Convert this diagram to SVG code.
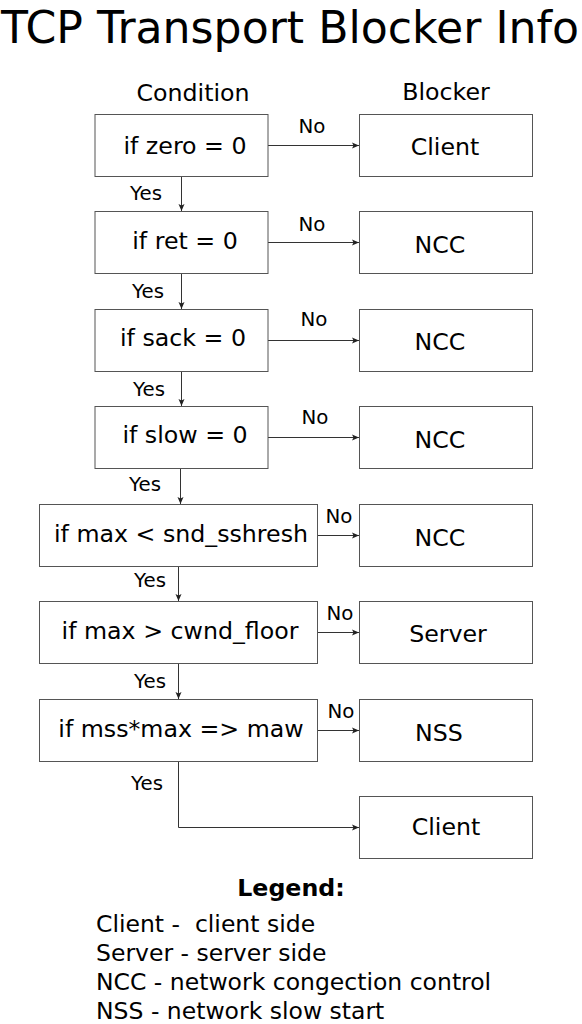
<svg xmlns="http://www.w3.org/2000/svg" width="582" height="1024" viewBox="0 0 582 1024">
<style>
text{font-family:"DejaVu Sans",sans-serif;fill:#000}
.t{font-size:45px;text-anchor:middle}
.h{font-size:23.7px;text-anchor:middle}
.n{font-size:23.7px;text-anchor:middle}
.l{font-size:19.8px;text-anchor:middle}
.g{font-size:23.5px}
.b{fill:#fff;stroke:#555;stroke-width:1}
.c{fill:none;stroke:#333;stroke-width:1;marker-end:url(#a)}
</style>
<defs>
<marker id="a" markerWidth="8" markerHeight="8" refX="7" refY="4" orient="auto" markerUnits="userSpaceOnUse">
<path d="M0,1 L7,4 L0,7 L1.5,4 Z" fill="#222"/>
</marker>
</defs>
<rect width="582" height="1024" fill="#fff"/>
<text class="t" x="290" y="43" textLength="578" lengthAdjust="spacingAndGlyphs">TCP Transport Blocker Info</text>
<text class="h" x="193" y="101">Condition</text>
<text class="h" x="446" y="100">Blocker</text>

<g id="connectors">
<path class="c" d="M268,145.5 H359"/>
<path class="c" d="M181.5,177 V211"/>
<path class="c" d="M268,242.5 H359"/>
<path class="c" d="M181.5,274 V309"/>
<path class="c" d="M268,340.5 H359"/>
<path class="c" d="M181.5,372 V406"/>
<path class="c" d="M268,437.5 H359"/>
<path class="c" d="M180.5,469 V504"/>
<path class="c" d="M318,535.5 H359"/>
<path class="c" d="M178.5,567 V601"/>
<path class="c" d="M318,632.5 H359"/>
<path class="c" d="M178.5,664 V699"/>
<path class="c" d="M318,730.5 H359"/>
<path class="c" d="M178.5,762 V827.5 H359"/>
<text class="l" x="312" y="133">No</text>
<text class="l" x="146" y="200">Yes</text>
<text class="l" x="312" y="231">No</text>
<text class="l" x="148" y="298">Yes</text>
<text class="l" x="314" y="326">No</text>
<text class="l" x="149" y="396">Yes</text>
<text class="l" x="315" y="424">No</text>
<text class="l" x="145" y="491">Yes</text>
<text class="l" x="339" y="523">No</text>
<text class="l" x="150" y="587">Yes</text>
<text class="l" x="340" y="620">No</text>
<text class="l" x="150" y="688">Yes</text>
<text class="l" x="341" y="718">No</text>
<text class="l" x="147" y="790">Yes</text>
</g>

<g id="c1"><rect class="b" x="95" y="114.5" width="173" height="62"/><text class="n" x="185" y="154">if zero = 0</text></g>
<g id="c2"><rect class="b" x="95" y="211.5" width="173" height="62"/><text class="n" x="185" y="249">if ret = 0</text></g>
<g id="c3"><rect class="b" x="95" y="309.5" width="173" height="62"/><text class="n" x="183" y="346">if sack = 0</text></g>
<g id="c4"><rect class="b" x="95" y="406.5" width="173" height="62"/><text class="n" x="185" y="443">if slow = 0</text></g>
<g id="c5"><rect class="b" x="39.5" y="504.5" width="278" height="62"/><text class="n" x="181" y="542">if max &lt; snd_sshresh</text></g>
<g id="c6"><rect class="b" x="39.5" y="601.5" width="278" height="62"/><text class="n" x="180" y="639">if max &gt; cwnd_floor</text></g>
<g id="c7"><rect class="b" x="39.5" y="699.5" width="278" height="62"/><text class="n" x="181" y="737">if mss*max =&gt; maw</text></g>

<g id="b1"><rect class="b" x="359.5" y="114.5" width="173" height="62"/><text class="n" x="445" y="155">Client</text></g>
<g id="b2"><rect class="b" x="359.5" y="211.5" width="173" height="62"/><text class="n" x="440" y="253">NCC</text></g>
<g id="b3"><rect class="b" x="359.5" y="309.5" width="173" height="62"/><text class="n" x="440" y="350">NCC</text></g>
<g id="b4"><rect class="b" x="359.5" y="406.5" width="173" height="62"/><text class="n" x="440" y="448">NCC</text></g>
<g id="b5"><rect class="b" x="359.5" y="504.5" width="173" height="62"/><text class="n" x="440" y="546">NCC</text></g>
<g id="b6"><rect class="b" x="359.5" y="601.5" width="173" height="62"/><text class="n" x="448" y="642">Server</text></g>
<g id="b7"><rect class="b" x="359.5" y="699.5" width="173" height="62"/><text class="n" x="439" y="741">NSS</text></g>
<g id="b8"><rect class="b" x="359.5" y="796.5" width="173" height="62"/><text class="n" x="446" y="835">Client</text></g>

<g id="legend">
<text class="h" x="291" y="896" font-weight="bold">Legend:</text>
<text class="g" x="96" y="932" xml:space="preserve">Client -  client side</text>
<text class="g" x="96" y="961">Server - server side</text>
<text class="g" x="96" y="990">NCC - network congection control</text>
<text class="g" x="96" y="1019">NSS - network slow start</text>
</g>
</svg>
